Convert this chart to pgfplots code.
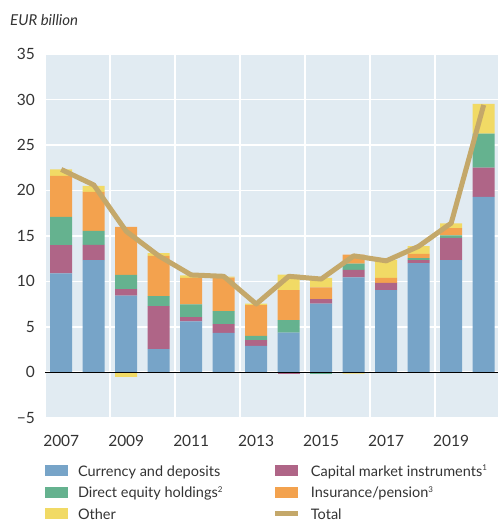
\documentclass[border=0pt]{standalone}
\usepackage{fontspec}
\setmainfont{Lato}
\usepackage{pgfplots}
\usepackage{pgfplotstable}
\pgfplotsset{compat=1.18}
\definecolor{cblue}{HTML}{77A4C8}
\definecolor{cmag}{HTML}{AF6587}
\definecolor{cgreen}{HTML}{65B28F}
\definecolor{corange}{HTML}{F3A24E}
\definecolor{cyellow}{HTML}{F1DA65}
\definecolor{ctotal}{HTML}{C4A86A}
\definecolor{bgblue}{HTML}{E1EBF2}
\definecolor{txt}{HTML}{333333}
\pgfplotstableread{
year blue mag green orange yellow total
2007 10.88 3.09 3.13 4.50 0.70 22.3
2008 12.32 1.69 1.55 4.27 0.66 20.6
2009 8.42 0.73 1.55 5.30 0.00 15.5
2010 2.54 4.74 1.10 4.41 0.30 12.8
2011 5.59 0.48 1.39 2.91 0.29 10.7
2012 4.34 0.95 1.44 3.67 0.11 10.55
2013 2.90 0.63 0.47 3.39 0.15 7.5
2014 4.37 0.00 1.37 3.30 1.70 10.55
2015 7.54 0.51 0.00 1.29 1.03 10.25
2016 10.44 0.81 0.70 0.99 0.00 12.8
2017 9.04 0.78 0.00 0.55 1.98 12.25
2018 11.99 0.33 0.22 0.47 0.85 13.85
2019 12.32 2.46 0.26 0.81 0.51 16.4
2020 19.30 3.20 3.75 0.00 3.27 29.4
}\datatable
\pgfplotstableread{
year mag green yellow
2009 0.00 0.00 -0.50
2014 -0.22 0.00 0.00
2015 0.00 -0.15 0.00
2016 0.00 0.00 -0.15
}\negtable
\pgfplotsset{
  common/.style={
    width=453bp, height=363.7bp, scale only axis,
    xmin=2006.5, xmax=2020.44, ymin=-5, ymax=35,
  },
  barleg/.style={legend image code/.code={\fill[##1,draw=none] (0bp,-5.5bp) rectangle (23bp,5.5bp);}},
}
\begin{document}
\begin{tikzpicture}
\begin{axis}[common,
  ybar stacked, bar width=22bp,
  axis background/.style={fill=bgblue},
  axis line style={draw=none},
  major tick length=0, minor tick length=0,
  ytick={-5,0,...,35},
  yticklabels={−5,0,5,10,15,20,25,30,35},
  xtick={2007,2009,...,2019},
  xticklabels={2007,2009,2011,2013,2015,2017,2019},
  minor xtick={2006.5,2008.5,2010.5,2012.5,2014.5,2016.5,2018.5},
  ymajorgrids, xminorgrids,
  major grid style={white, line width=1.6bp},
  minor grid style={white, line width=1.6bp},
  tick label style={font=\fontsize{15.5bp}{18bp}\selectfont, text=txt},
  yticklabel style={inner sep=0pt, anchor=east, xshift=-10bp},
  xticklabel style={inner sep=0pt, anchor=north, yshift=-17bp},
  title={\itshape EUR billion},
  title style={at={(0,1)}, anchor=west, xshift=-35bp, yshift=28bp, inner sep=0pt, font=\fontsize{15bp}{18bp}\selectfont, text=txt},
  legend columns=2,
  legend cell align=left,
  legend style={at={(0,0)}, anchor=north west, yshift=-46bp, draw=none, fill=none,
    inner sep=0pt, outer sep=0pt, row sep=7.5bp,
    font=\fontsize{14.5bp}{17bp}\selectfont, text=txt,
    nodes={inner xsep=0pt, inner ysep=0.5bp, text height=12bp, text depth=1bp},
    /tikz/every odd column/.append style={column sep=10bp},
    /tikz/every even column/.append style={column sep=50bp}},
]
\addplot[fill=cblue, draw=none, barleg] table[x=year, y=blue] {\datatable};
\addlegendentry{Currency and deposits}
\addplot[fill=cmag, draw=none, barleg] table[x=year, y=mag] {\datatable};
\addlegendentry{Capital market instruments\textsuperscript{\footnotesize 1}}
\addplot[fill=cgreen, draw=none, barleg] table[x=year, y=green] {\datatable};
\addlegendentry{Direct equity holdings\textsuperscript{\footnotesize 2}}
\addplot[fill=corange, draw=none, barleg] table[x=year, y=orange] {\datatable};
\addlegendentry{Insurance/pension\textsuperscript{\footnotesize 3}}
\addplot[fill=cyellow, draw=none, barleg] table[x=year, y=yellow] {\datatable};
\addlegendentry{Other}
\addlegendimage{legend image code/.code={\draw[ctotal, line width=5bp] (0bp,0bp) -- (23bp,0bp);}}
\addlegendentry{Total}
\end{axis}
\begin{axis}[common, hide axis, ybar stacked, bar width=22bp]
\addplot[fill=cmag, draw=none] table[x=year, y=mag] {\negtable};
\addplot[fill=cgreen, draw=none] table[x=year, y=green] {\negtable};
\addplot[fill=cyellow, draw=none] table[x=year, y=yellow] {\negtable};
\end{axis}
\begin{axis}[common, hide axis]
\addplot[black, line width=1bp, no marks] coordinates {(2006.5,0) (2020.44,0)};
\addplot[ctotal, line width=5bp, no marks, line join=round] table[x=year, y=total] {\datatable};
\end{axis}
\pgfresetboundingbox
\path[use as bounding box] (-45bp,-106.3bp) rectangle (453bp,417.7bp);
\end{tikzpicture}
\end{document}
